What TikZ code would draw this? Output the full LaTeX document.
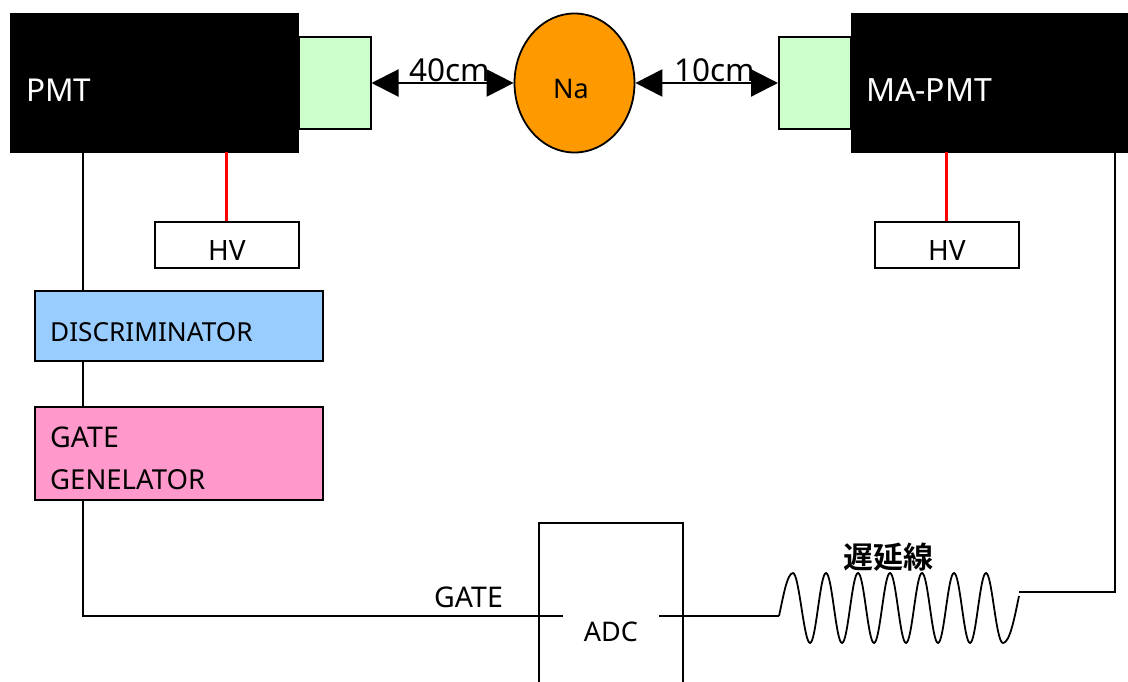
\documentclass[tikz,border=0pt]{standalone}
\usepackage{fontspec}
\setmainfont{Noto Sans}
\newfontfamily\cjk{Noto Sans CJK JP}[BoldFont={Noto Sans CJK JP Bold}]
\usetikzlibrary{arrows.meta,shapes.geometric}
\definecolor{greenbox}{HTML}{CCFFCC}
\definecolor{bluebox}{HTML}{99CCFF}
\definecolor{pinkbox}{HTML}{FF99CC}
\definecolor{naorange}{HTML}{FF9900}
\tikzset{
  box/.style={draw=black,line width=2pt,inner sep=0pt,anchor=north west},
  pmtbox/.style={fill=black,text=white,inner sep=0pt,anchor=north west},
  lbl/.style={inner sep=0pt,text=black},
  wire/.style={draw=black,line width=1.8pt},
  hvwire/.style={draw=red,line width=3pt},
  dist/.style={draw=black,line width=2.2pt,{Triangle[length=27pt,width=27pt]}-{Triangle[length=27pt,width=27pt]},shorten <=0pt,shorten >=0pt},
}
\newcommand{\bx}[5]{\node[#1,minimum width=#4pt,minimum height=#5pt] (#2) at (#3) {};}
\begin{document}
\begin{tikzpicture}[x=1pt,y=-1pt]
\useasboundingbox (0,0) rectangle (1128,682);
% PMTs and light guides
\bx{pmtbox}{pmt}{10,13}{289}{139.5}
\bx{pmtbox}{mapmt}{850.5,13}{277.5}{139.5}
\bx{box,fill=greenbox}{guideL}{298,36}{71.5}{92}
\bx{box,fill=greenbox}{guideR}{778,36}{72}{92}
\node[lbl,text=white,anchor=west,font=\fontsize{31.5}{31.5}\selectfont] (pmtl) at (26,90) {PMT};
\node[lbl,text=white,anchor=west,font=\fontsize{32}{32}\selectfont] (mapmtl) at (866,90) {MA-PMT};
% source
\node[draw=black,line width=1.8pt,fill=naorange,shape=ellipse,inner sep=0pt,minimum width=120pt,minimum height=139pt] (na) at (574.5,83) {};
\node[lbl,font=\fontsize{27}{27}\selectfont] (nal) at (571,89) {Na};
% distances
\draw[dist] (guideL.east |- 0,83) -- (na.west |- 0,83);
\draw[dist] (na.east |- 0,83) -- (guideR.west |- 0,83);
\node[lbl,anchor=base,font=\fontsize{31.5}{31.5}\selectfont] (d40) at (450,81.5) {40cm};
\node[lbl,anchor=base,font=\fontsize{31.5}{31.5}\selectfont] (d10) at (715,81.5) {10cm};
% HV
\bx{box}{hvL}{154,221}{144}{46}
\bx{box}{hvR}{874,221}{144}{46}
\node[lbl,font=\fontsize{28}{28}\selectfont] (hvLt) at (227,251) {HV};
\node[lbl,font=\fontsize{28}{28}\selectfont] (hvRt) at (947,251) {HV};
\draw[hvwire] (hvL.north -| 226.5,0) -- (226.5,152);
\draw[hvwire] (hvR.north -| 946.5,0) -- (946.5,152);
% discriminator + gate generator
\bx{box,fill=bluebox}{disc}{34,290}{288}{69.5}
\bx{box,fill=pinkbox}{gate}{34,406}{288}{92.5}
\node[lbl,anchor=base west,font=\fontsize{26.2}{26.2}\selectfont] (discl) at (50,341) {DISCRIMINATOR};
\node[lbl,anchor=base west,font=\fontsize{28.5}{28.5}\selectfont] (gatel1) at (50,447.5) {GATE};
\node[lbl,anchor=base west,font=\fontsize{27.5}{27.5}\selectfont] (gatel2) at (50,489.5) {GENELATOR};
\coordinate (c1) at (83,616);
\coordinate (c2) at (1115,592);
\coordinate (c3) at (1019,592);
\coordinate (w0) at (779,616);
\draw[wire] (pmt.south -| c1) -- (disc.north -| c1);
\draw[wire] (disc.south -| c1) -- (gate.north -| c1);
% ADC
\begin{scope}
\clip (0,0) rectangle (1128,682);
\node[box,minimum width=144pt,minimum height=190pt] (adc) at (538,522) {};
\end{scope}
\node[lbl,minimum width=96pt,font=\fontsize{27}{27}\selectfont] (adcl) at (611,632) {ADC};
\node[lbl,anchor=base,font=\fontsize{28.5}{28.5}\selectfont] (gatein) at (468.5,607.5) {GATE};
\draw[wire] (gate.south -| c1) -- (c1) -- (c1 -| adcl.west);
\draw[wire] (c1 -| adcl.east) -- (w0);
% delay line
\node[lbl,font=\cjk\bfseries\fontsize{30}{30}\selectfont] (delay) at (888,557) {遅延線};
\draw[black,line width=1.8pt] (w0) .. controls (783,598) and (787,573) .. (793,573)
 .. controls +(6,0) and +(-6,0) .. (810,643)
 .. controls +(6,0) and +(-6,0) .. (826,573)
 .. controls +(6,0) and +(-6,0) .. (842,643)
 .. controls +(6,0) and +(-6,0) .. (858,573)
 .. controls +(6,0) and +(-6,0) .. (874,643)
 .. controls +(6,0) and +(-6,0) .. (890,573)
 .. controls +(6,0) and +(-6,0) .. (906,643)
 .. controls +(6,0) and +(-6,0) .. (922,573)
 .. controls +(6,0) and +(-6,0) .. (938,643)
 .. controls +(6,0) and +(-6,0) .. (954,573)
 .. controls +(6,0) and +(-6,0) .. (970,643)
 .. controls +(6,0) and +(-6,0) .. (986,573)
 .. controls +(6,0) and +(-7,0) .. (1003,643)
 .. controls (1010,643) and (1015,615) .. (1019,596);
% MA-PMT output
\draw[wire] (mapmt.south -| c2) -- (c2) -- (c3);
\end{tikzpicture}
\end{document}
